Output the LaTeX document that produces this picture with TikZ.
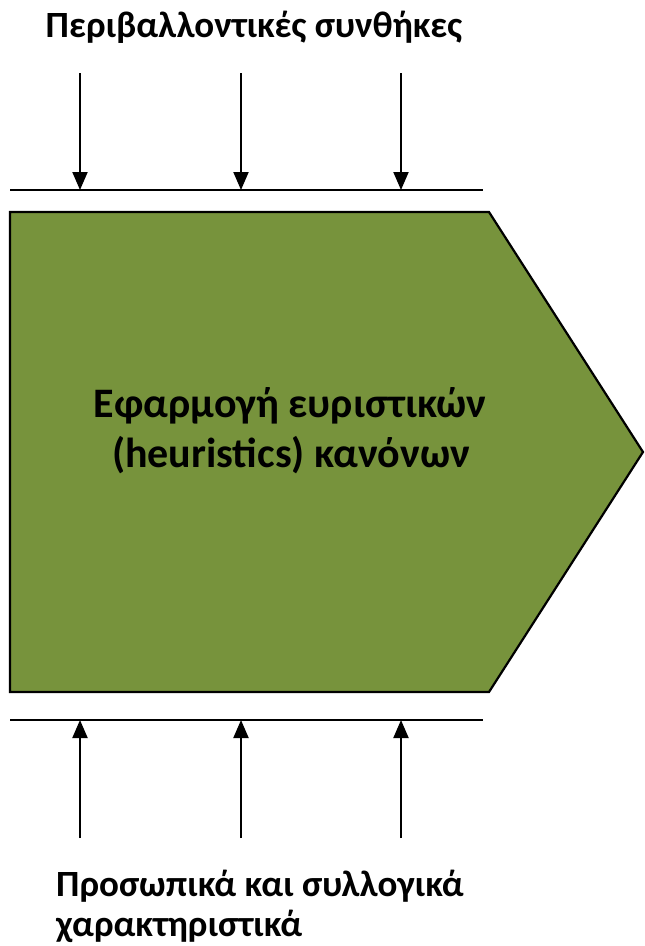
\documentclass[tikz,border=0pt]{standalone}
\usepackage{fontspec}
\setmainfont{Carlito}
\usetikzlibrary{arrows.meta}
\definecolor{olive}{HTML}{77933C}
\tikzset{
  lbl/.style={font=\bfseries\fontsize{37}{42}\selectfont, inner sep=0pt, anchor=base},
  midlbl/.style={font=\bfseries\fontsize{42}{50}\selectfont, inner sep=0pt, anchor=base},
  bar/.style={line width=2.2pt},
  inarrow/.style={line width=2pt, -{Triangle[length=18pt,width=15pt]}},
}
\begin{document}
\begin{tikzpicture}[x=1pt,y=-1pt]
\useasboundingbox (0,0) rectangle (645,946);
% title
\node[lbl] (top) at (254,37) {Περιβαλλοντικές συνθήκες};
% top bar
\coordinate (tl) at (10,190);
\coordinate (tr) at (483,190);
\draw[bar] (tl) -- (tr);
\foreach \x [count=\i] in {80,241,401} {
  \coordinate (ts\i) at (\x,73);
  \coordinate (te\i) at (\x,190);
  \draw[inarrow] (ts\i) -- (te\i);
}
% pentagon
\coordinate (p1) at (10,212);
\coordinate (p2) at (489,212);
\coordinate (p3) at (643,452);
\coordinate (p4) at (489,692);
\coordinate (p5) at (10,692);
\draw[fill=olive, line width=2.2pt, line join=miter] (p1) -- (p2) -- (p3) -- (p4) -- (p5) -- cycle;
\node[midlbl] (mid1) at (290,417) {Εφαρμογή ευριστικών};
\node[midlbl] (mid2) at (291,467) {(heuristics) κανόνων};
% bottom bar
\coordinate (bl) at (10,720);
\coordinate (br) at (483,720);
\draw[bar] (bl) -- (br);
\foreach \x [count=\i] in {80,241,401} {
  \coordinate (bs\i) at (\x,838);
  \coordinate (be\i) at (\x,720);
  \draw[inarrow] (bs\i) -- (be\i);
}
\node[lbl, anchor=base west] (bot1) at (56,896) {Προσωπικά και συλλογικά};
\node[lbl, anchor=base west] (bot2) at (56,936) {χαρακτηριστικά};
\end{tikzpicture}
\end{document}
